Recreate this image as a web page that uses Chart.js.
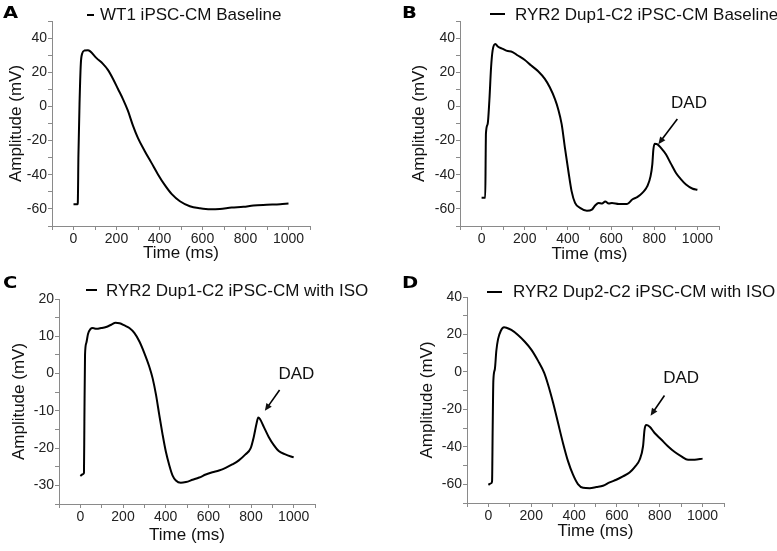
<!DOCTYPE html>
<html lang="en">
<head>
<meta charset="UTF-8">
<title>RYR2 iPSC-CM action potentials</title>
<script src="https://cdn.jsdelivr.net/npm/chart.js"></script>
<style>
  body { margin: 0; background: #fff; }
  .panel { position: absolute; }
</style>
</head>
<body>
<div class="panel" style="left:0;top:0"><canvas id="chartA" width="388" height="272"></canvas></div>
<div class="panel" style="left:388px;top:0"><canvas id="chartB" width="389" height="272"></canvas></div>
<div class="panel" style="left:0;top:272px"><canvas id="chartC" width="388" height="279"></canvas></div>
<div class="panel" style="left:388px;top:272px"><canvas id="chartD" width="389" height="279"></canvas></div>

<script>
// x tick labels shared by all panels
const timeTicks = [0, 200, 400, 600, 800, 1000];

// A: WT1 baseline
const timeA = [0, 19, 20, 23, 28, 34, 40, 51, 67, 78, 106, 137, 160, 184, 207, 230, 253, 277, 300, 331,
  362, 393, 425, 456, 495, 541, 588, 635, 681, 736, 790, 837, 899, 961, 1000];
const mvA = [-57.3, -57.3, -56.5, -28, 1.4, 24.9, 30.8, 32.7, 32.9, 32.2, 28.4, 24.9, 21.4, 16.1, 10.2, 4.3, -2.5, -11.4, -18.6, -26.1,
  -32.9, -39.8, -46.1, -51.2, -55.5, -58.4, -59.6, -60.2, -60, -59.2, -58.8, -58, -57.6, -57.3, -56.9];
const mvTicksA = [-60, -40, -20, 0, 20, 40];

// B: RYR2 Dup1-C2 baseline
const timeB = [0, 17, 19, 20, 28, 36, 44, 51, 64, 75, 98, 121, 137, 168, 199, 230, 262, 293, 316, 340,
  355, 371, 386, 402, 417, 433, 456, 488, 511, 526, 542, 558, 573, 589, 604, 636, 674, 698, 721, 745,
  768, 783, 791, 796, 802, 815, 830, 854, 877, 900, 924, 947, 978, 1000];
const mvB = [-53.5, -53.5, -28, -16.3, -10.4, 3.3, 22.9, 32.7, 36.5, 35.1, 33.7, 32.4, 32.2, 29.8, 27.3, 23.9, 20.6, 16.1, 11.2, 4.3,
  -1.6, -10.4, -24.1, -37.8, -49.6, -56.5, -59.4, -61, -60.4, -58, -56.5, -56.9, -55.7, -56.9, -56.5, -57.1, -57.1, -54.5, -53.1, -50.6,
  -46.7, -40.8, -33.9, -25.1, -21.8, -22.2, -24.1, -28, -33.5, -38.8, -42.7, -45.7, -48.2, -48.8];
const mvTicksB = [-60, -40, -20, 0, 20, 40];

// C: RYR2 Dup1-C2 with ISO
const timeC = [0, 12, 17, 19, 22, 28, 36, 47, 59, 75, 98, 121, 145, 165, 184, 207, 230, 253, 277, 300,
  323, 339, 355, 370, 386, 401, 417, 432, 448, 471, 495, 526, 557, 588, 619, 650, 681, 712, 743, 774,
  798, 813, 826, 834, 842, 860, 883, 907, 930, 961, 1000];
const mvC = [-27.5, -27, -26.7, -12.9, 5, 8.2, 10.6, 11.9, 12.2, 12, 12.2, 12.5, 13.1, 13.6, 13.5, 12.9, 12.2, 10.9, 8.6, 5.5,
  1.9, -1.3, -5.8, -11.1, -16.5, -21, -24.6, -27.3, -28.7, -29.3, -29.1, -28.5, -27.9, -27.1, -26.5, -26, -25.3, -24.4, -23.3, -21.7,
  -20.1, -17, -13.4, -11.8, -12.2, -14.3, -17, -19.2, -20.8, -21.7, -22.5];
const mvTicksC = [-30, -20, -10, 0, 10, 20];

// D: RYR2 Dup2-C2 with ISO
const timeD = [0, 14, 17, 20, 23, 30, 37, 45, 58, 73, 84, 107, 138, 170, 201, 232, 260, 278, 302, 325,
  348, 372, 395, 418, 442, 473, 504, 535, 566, 597, 628, 659, 683, 706, 722, 729, 737, 753, 776, 807,
  838, 870, 901, 932, 963, 1000];
const mvD = [-60.3, -59.4, -58.5, -29, -4.8, 1.4, 11.3, 17.5, 22, 23.8, 23.6, 22.4, 19.7, 16.1, 11.8, 5.9, -0.4, -6.6, -16.5, -27.2,
  -37.9, -47.8, -54.9, -59.9, -61.9, -62.1, -61.5, -60.8, -59, -57.6, -55.8, -53.7, -50.8, -46.9, -39.7, -30.8, -28.4, -29.3, -32.6, -36.1,
  -39.7, -42.8, -45.1, -46.9, -46.9, -46.3];
const mvTicksD = [-60, -40, -20, 0, 20, 40];

const FONT = '"Liberation Sans", Arial, sans-serif';
const AXIS_GREY = '#8a8a8a';

// draws panel letter, legend sample and the DAD arrow
function decorPlugin(p) {
  return {
    id: 'decor',
    afterDraw(chart) {
      const ctx = chart.ctx;
      const sx = chart.scales.x, sy = chart.scales.y;
      ctx.save();
      ctx.fillStyle = '#000';
      ctx.textBaseline = 'middle';
      ctx.textAlign = 'left';
      // panel letters in the figure are heavy and wide
      ctx.save();
      ctx.translate(p.letterPos[0], p.letterPos[1]);
      ctx.scale(1.3, 1);
      ctx.font = 'bold 15px "DejaVu Sans", sans-serif';
      ctx.fillText(p.letter, 0, 0);
      ctx.restore();

      ctx.strokeStyle = '#000';
      ctx.lineWidth = 2;
      ctx.beginPath();
      ctx.moveTo(p.legendLine[0], p.legendLine[2]);
      ctx.lineTo(p.legendLine[1], p.legendLine[2]);
      ctx.stroke();
      ctx.font = '17px ' + FONT;
      ctx.fillStyle = '#111';
      ctx.fillText(p.label, p.labelPos[0], p.labelPos[1]);

      if (p.dad) {
        const d = p.dad;
        ctx.textAlign = 'center';
        ctx.fillText('DAD', sx.getPixelForValue(d.text[0]), sy.getPixelForValue(d.text[1]));
        const x1 = sx.getPixelForValue(d.from[0]), y1 = sy.getPixelForValue(d.from[1]);
        const x2 = sx.getPixelForValue(d.to[0]), y2 = sy.getPixelForValue(d.to[1]);
        const ang = Math.atan2(y2 - y1, x2 - x1);
        const head = 8;
        ctx.lineWidth = 1.6;
        ctx.beginPath();
        ctx.moveTo(x1, y1);
        ctx.lineTo(x2 - Math.cos(ang) * head * 0.8, y2 - Math.sin(ang) * head * 0.8);
        ctx.stroke();
        ctx.beginPath();
        ctx.moveTo(x2, y2);
        ctx.lineTo(x2 - head * Math.cos(ang - 0.42), y2 - head * Math.sin(ang - 0.42));
        ctx.lineTo(x2 - head * Math.cos(ang + 0.42), y2 - head * Math.sin(ang + 0.42));
        ctx.closePath();
        ctx.fill();
      }
      ctx.restore();
    }
  };
}

function makeChart(id, times, values, p) {
  const ctx = document.getElementById(id).getContext('2d');
  return new Chart(ctx, {
    type: 'line',
    data: {
      datasets: [{
        data: times.map((t, i) => ({ x: t, y: values[i] })),
        borderColor: '#000',
        borderWidth: 2,
        pointRadius: 0,
        fill: false,
        cubicInterpolationMode: 'monotone'
      }]
    },
    options: {
      responsive: false,
      animation: false,
      devicePixelRatio: 1,
      layout: { padding: { top: p.top, right: p.right, left: 0, bottom: 0 } },
      plugins: { legend: { display: false }, tooltip: { enabled: false } },
      scales: {
        x: {
          type: 'linear',
          min: -100,
          max: 1100,
          afterFit: s => { s.height = p.xHeight; },
          border: { color: AXIS_GREY, width: 1 },
          grid: { drawOnChartArea: false, drawTicks: true, tickLength: 4, color: AXIS_GREY },
          ticks: {
            stepSize: 100,
            autoSkip: false,
            maxRotation: 0,
            padding: 1,
            color: '#222',
            font: { family: FONT, size: 14 },
            callback: v => timeTicks.includes(v) ? v : ''
          },
          title: {
            display: true,
            text: 'Time (ms)',
            color: '#111',
            font: { family: FONT, size: 17 },
            padding: { top: 0, bottom: p.xTitlePad }
          }
        },
        y: {
          min: p.yMin,
          max: p.yMax,
          afterFit: s => { s.width = p.yWidth; },
          border: { color: AXIS_GREY, width: 1 },
          grid: { drawOnChartArea: false, drawTicks: true, tickLength: 4, color: AXIS_GREY },
          ticks: {
            stepSize: p.yStep,
            autoSkip: false,
            padding: 1,
            color: '#222',
            font: { family: FONT, size: 14 },
            callback: v => p.yTicks.includes(v) ? v : ''
          },
          title: {
            display: true,
            text: 'Amplitude (mV)',
            color: '#111',
            font: { family: FONT, size: 17 },
            padding: { top: p.yTitlePad, bottom: 0 }
          }
        }
      }
    },
    plugins: [decorPlugin(p)]
  });
}

makeChart('chartA', timeA, mvA, {
  top: 21, right: 78, xHeight: 46, yWidth: 52, xTitlePad: 8, yTitlePad: 6,
  yMin: -70, yMax: 50, yStep: 10, yTicks: mvTicksA,
  letter: 'A', letterPos: [3, 14],
  legendLine: [87, 94, 15], label: 'WT1 iPSC-CM Baseline', labelPos: [100, 15]
});

makeChart('chartB', timeB, mvB, {
  top: 21, right: 58, xHeight: 46, yWidth: 72, xTitlePad: 7, yTitlePad: 21,
  yMin: -70, yMax: 50, yStep: 10, yTicks: mvTicksB,
  letter: 'B', letterPos: [14, 14],
  legendLine: [102, 117, 14], label: 'RYR2 Dup1-C2 iPSC-CM Baseline', labelPos: [127, 15],
  dad: { text: [961, 1.7], from: [907, -7.4], to: [819, -22.1] }
});

makeChart('chartC', timeC, mvC, {
  top: 27, right: 73, xHeight: 47, yWidth: 59, xTitlePad: 5, yTitlePad: 9,
  yMin: -35, yMax: 20, yStep: 5, yTicks: mvTicksC,
  letter: 'C', letterPos: [3, 12],
  legendLine: [86, 97, 18], label: 'RYR2 Dup1-C2 iPSC-CM with ISO', labelPos: [106, 19],
  dad: { text: [1013, -0.1], from: [934, -4.4], to: [865, -10] }
});

makeChart('chartD', timeD, mvD, {
  top: 25, right: 53, xHeight: 48, yWidth: 79, xTitlePad: 9, yTitlePad: 29,
  yMin: -70, yMax: 40, yStep: 10, yTicks: mvTicksD,
  letter: 'D', letterPos: [14, 12],
  legendLine: [99, 114, 20], label: 'RYR2 Dup2-C2 iPSC-CM with ISO', labelPos: [125, 20],
  dad: { text: [900, -3.5], from: [822, -12.6], to: [757, -23.4] }
});
</script>
</body>
</html>
